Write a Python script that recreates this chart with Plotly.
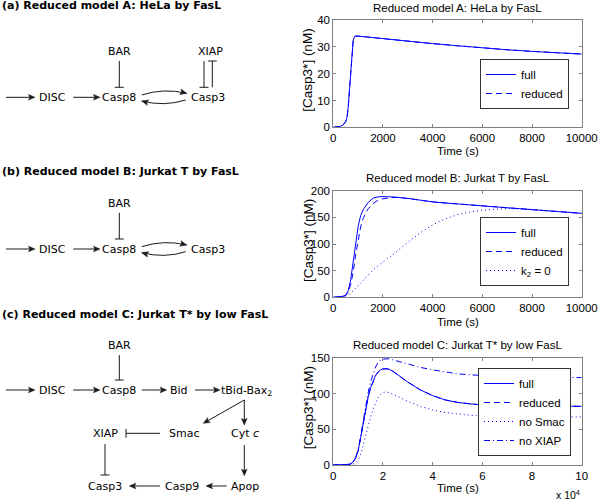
import plotly.graph_objects as go

W, H = 600, 503

# ---------------- data ----------------
# Panel A: HeLa by FasL
t_a = [0, 100, 200, 300, 400, 450, 500, 550, 600, 650, 700, 750, 800, 850, 900,
       1000, 1200, 1500, 2000, 3000, 4000, 5000, 6000, 7000, 8000, 9000, 10000]
a_full = [0, 0.05, 0.15, 0.4, 0.9, 1.4, 2.2, 3.6, 7.5, 14, 21, 27.5, 32.3, 33.8, 34.0,
          34.0, 33.8, 33.5, 32.9, 32.1, 31.2, 30.4, 29.6, 28.9, 28.3, 27.8, 27.3]
a_reduced = [0, 0.05, 0.15, 0.4, 0.9, 1.4, 2.2, 3.5, 7.2, 13.6, 20.6, 27.2, 32.1, 33.7, 34.0,
             34.0, 33.8, 33.5, 32.9, 32.1, 31.2, 30.4, 29.6, 28.9, 28.3, 27.8, 27.3]

# Panel B: Jurkat T by FasL
t_b = [0, 200, 400, 500, 600, 700, 800, 900, 1000, 1100, 1200, 1400, 1600, 1800, 2000,
       2200, 2500, 3000, 3500, 4000, 4500, 5000, 5500, 6000, 7000, 8000, 9000, 10000]
b_full = [0, 0.3, 2, 4, 12, 33, 62, 100, 133, 153, 164, 178, 186, 188.5, 189,
          189, 188, 185.5, 182, 179, 177, 175, 173, 171.5, 168, 164.5, 161, 157.5]
b_reduced = [0, 0.3, 2, 3.5, 10, 24, 47, 80, 110, 132, 148, 166, 176, 182, 185,
             186.5, 187.5, 185.5, 182, 179, 177, 175, 173, 171.5, 168, 164.5, 161, 157.5]
b_k2zero = [0, 0.2, 1, 2.5, 5, 8, 12, 17, 22, 27, 32, 42, 51, 59, 66,
            73, 84, 103, 121, 136, 147, 155, 160, 163.5, 166.5, 165, 161, 157.5]

# Panel C: Jurkat T* by low FasL (time in units of 10^4 s)
t_c = [0, 0.2, 0.4, 0.6, 0.7, 0.8, 0.9, 1.0, 1.1, 1.2, 1.3, 1.4, 1.5, 1.6, 1.7, 1.8, 1.9,
       2.0, 2.1, 2.2, 2.4, 2.6, 2.8, 3.0, 3.5, 4.0, 4.5, 5.0, 5.5, 6.0, 7.0, 8.0, 9.0, 10.0]
c_full = [0, 0.1, 0.3, 0.8, 1.5, 4.5, 10, 20, 38, 58, 78, 95, 108, 118, 125, 130, 133,
          134.5, 135, 134.5, 131, 126, 121, 116, 105, 97, 91, 87.5, 85.5, 84, 83, 82.5, 82.2, 82]
c_reduced = [0, 0.1, 0.3, 0.8, 1.5, 4.3, 9.7, 19.5, 37.5, 57.5, 77.5, 94.5, 107.5, 117.5, 124.8, 129.8, 132.8,
             134.3, 134.8, 134.3, 130.8, 125.8, 120.8, 115.8, 105, 97, 91, 87.5, 85.5, 84, 83, 82.5, 82.2, 82]
c_nosmac = [0, 0, 0.1, 0.3, 0.6, 1.2, 3, 7, 15, 27, 41, 55, 67, 78, 87, 94, 99,
            101.5, 102, 101.5, 99, 95.5, 92, 89, 82, 77, 73.5, 71, 69.5, 68.5, 67.8, 67.5, 67.3, 67.2]
c_noxiap = [0, 0.1, 0.3, 0.8, 1.5, 4.6, 10.5, 21, 40, 61, 82, 101, 116, 128, 137, 143, 146.5,
            148, 148.5, 148.5, 147, 145, 142.5, 140.5, 136.5, 133, 130, 127.5, 126, 125, 123.8, 123, 122.5, 122.2]

xticks_ab = [0, 2000, 4000, 6000, 8000, 10000]
xticks_c = [0, 2, 4, 6, 8, 10]
yticks_a = [0, 10, 20, 30, 40]
yticks_b = [0, 50, 100, 150, 200]
yticks_c = [0, 50, 100, 150]

# ---------------- helpers (pixel -> paper) ----------------
def X(px):
    return px / W


def Y(py):
    return 1 - py / H


BLUE = '#0000ff'
DIAG = '#1a1a1a'
AXC = '#808080'
PFONT = 'Liberation Sans'
DFONT = 'DejaVu Sans'

shapes = []
annotations = []


def seg(x0, y0, x1, y1, color=DIAG, width=1):
    shapes.append(dict(type='line', xref='paper', yref='paper', x0=X(x0), y0=Y(y0),
                       x1=X(x1), y1=Y(y1), line=dict(color=color, width=width)))


def head(tx, ty, dx, dy, L=6.5, w=2.8):
    n = (dx * dx + dy * dy) ** 0.5
    ux, uy = dx / n, dy / n
    px, py = -uy, ux
    bx, by = tx - L * ux, ty - L * uy
    nx, ny = tx - 0.8 * L * ux, ty - 0.8 * L * uy
    pts = [(tx, ty), (bx + w * px, by + w * py), (nx, ny), (bx - w * px, by - w * py)]
    path = 'M ' + ' L '.join(f'{X(a):.5f},{Y(b):.5f}' for a, b in pts) + ' Z'
    shapes.append(dict(type='path', xref='paper', yref='paper', path=path,
                       fillcolor=DIAG, line=dict(color=DIAG, width=0.5)))


def arrow(x0, y0, x1, y1):
    dx, dy = x1 - x0, y1 - y0
    n = (dx * dx + dy * dy) ** 0.5
    ux, uy = dx / n, dy / n
    seg(x0, y0, x1 - 4 * ux, y1 - 4 * uy)
    head(x1, y1, dx, dy)


def inhibit(x0, y0, x1, y1, bar=4.5):
    dx, dy = x1 - x0, y1 - y0
    n = (dx * dx + dy * dy) ** 0.5
    ux, uy = dx / n, dy / n
    px, py = -uy, ux
    seg(x0, y0, x1, y1)
    seg(x1 + bar * px, y1 + bar * py, x1 - bar * px, y1 - bar * py)


def curved(x0, y0, cx, cy, x1, y1):
    path = f'M {X(x0):.5f},{Y(y0):.5f} Q {X(cx):.5f},{Y(cy):.5f} {X(x1):.5f},{Y(y1):.5f}'
    shapes.append(dict(type='path', xref='paper', yref='paper', path=path,
                       line=dict(color=DIAG, width=1)))
    head(x1, y1, x1 - cx, y1 - cy)


def node(text, x, y, size=11):
    annotations.append(dict(text=text, x=X(x), y=Y(y), xref='paper', yref='paper',
                            xanchor='center', yanchor='middle', showarrow=False,
                            font=dict(family=DFONT, size=size, color='black')))


def ptext(text, x, y, size=11, angle=0, xanchor='center', family=PFONT, bold=False):
    annotations.append(dict(text=(f'<b>{text}</b>' if bold else text), x=X(x), y=Y(y),
                            xref='paper', yref='paper', xanchor=xanchor, yanchor='middle',
                            showarrow=False, textangle=angle,
                            font=dict(family=family, size=size, color='black')))


# ---------------- left panels: diagrams ----------------
ptext('(a) Reduced model A: HeLa by FasL', 0, 5.5, size=11, xanchor='left', family=DFONT, bold=True)
ptext('(b) Reduced model B: Jurkat T by FasL', 0, 172, size=11, xanchor='left', family=DFONT, bold=True)
ptext('(c) Reduced model C: Jurkat T* by low FasL', 0, 314, size=11, xanchor='left', family=DFONT, bold=True)


def caspase_row(ry, xiap=False):
    arrow(6, ry, 35, ry)
    node('DISC', 52.7, ry)
    arrow(73.3, ry, 100, ry)
    node('Casp8', 119, ry)
    node('BAR', 119.3, ry - 45.6)
    inhibit(119.3, ry - 36.3, 119.3, ry - 10)
    node('Casp3', 207.7, ry)
    curved(141.7, ry - 2.3, 164, ry - 9.5, 186.7, ry - 4)
    curved(185.7, ry + 2.7, 164, ry + 9.5, 141.7, ry + 3.7)
    if xiap:
        node('XIAP', 210, ry - 45.6)
        inhibit(204, ry - 36.3, 204, ry - 10)
        inhibit(212.3, ry - 10, 212.3, ry - 36.3)


caspase_row(97.3, xiap=True)
caspase_row(249)

# panel (c) diagram
rc = 390
arrow(6, rc, 35, rc)
node('DISC', 52.7, rc)
arrow(73.3, rc, 100, rc)
node('Casp8', 119, rc)
node('BAR', 119.3, rc - 45)
inhibit(119.3, rc - 35, 119.3, rc - 10)
arrow(141.7, rc, 166.7, rc)
node('Bid', 179, rc)
arrow(195, rc, 220, rc)
node('tBid-Bax<sub>2</sub>', 246.7, rc + 1)
arrow(244.3, 400, 203.3, 423.3)
arrow(244.3, 400, 244.3, 425)
node('XIAP', 105, 433.3)
inhibit(160, 433.3, 126, 433.3)
node('Smac', 184.7, 433.3)
node('Cyt <i>c</i>', 245, 433.3)
arrow(244.3, 445, 244.3, 475.7)
inhibit(105, 444, 105, 475)
node('Casp3', 105, 486)
arrow(160, 486, 129.3, 486)
node('Casp9', 182, 486)
arrow(226.7, 486, 206, 486)
node('Apop', 245, 486)

# ---------------- right panels: plots ----------------
XL, XR = 333.3, 581.7
panels = [
    dict(top=20, bot=127.3),
    dict(top=190.7, bot=297.3),
    dict(top=357.7, bot=465),
]

fig = go.Figure()

fig.add_trace(go.Scatter(x=t_a, y=a_full, mode='lines', name='full', legend='legend',
                         line=dict(color=BLUE, width=1), xaxis='x', yaxis='y'))
fig.add_trace(go.Scatter(x=t_a, y=a_reduced, mode='lines', name='reduced', legend='legend',
                         line=dict(color=BLUE, width=1, dash='6px,4px'), xaxis='x', yaxis='y'))

fig.add_trace(go.Scatter(x=t_b, y=b_full, mode='lines', name='full', legend='legend2',
                         line=dict(color=BLUE, width=1), xaxis='x2', yaxis='y2'))
fig.add_trace(go.Scatter(x=t_b, y=b_reduced, mode='lines', name='reduced', legend='legend2',
                         line=dict(color=BLUE, width=1, dash='6px,4px'), xaxis='x2', yaxis='y2'))
fig.add_trace(go.Scatter(x=t_b, y=b_k2zero, mode='lines', name='k<sub>2</sub> = 0', legend='legend2',
                         line=dict(color=BLUE, width=1, dash='1px,3px'), xaxis='x2', yaxis='y2'))

fig.add_trace(go.Scatter(x=t_c, y=c_full, mode='lines', name='full', legend='legend3',
                         line=dict(color=BLUE, width=1), xaxis='x3', yaxis='y3'))
fig.add_trace(go.Scatter(x=t_c, y=c_reduced, mode='lines', name='reduced', legend='legend3',
                         line=dict(color=BLUE, width=1, dash='6px,4px'), xaxis='x3', yaxis='y3'))
fig.add_trace(go.Scatter(x=t_c, y=c_nosmac, mode='lines', name='no Smac', legend='legend3',
                         line=dict(color=BLUE, width=1, dash='1px,3px'), xaxis='x3', yaxis='y3'))
fig.add_trace(go.Scatter(x=t_c, y=c_noxiap, mode='lines', name='no XIAP', legend='legend3',
                         line=dict(color=BLUE, width=1, dash='6px,3px,1px,3px'), xaxis='x3', yaxis='y3'))

axis_common = dict(showline=True, linecolor=AXC, linewidth=1, mirror='ticks', ticks='inside',
                   ticklen=3, tickcolor=AXC, showgrid=False, zeroline=False, fixedrange=True,
                   tickformat='d', automargin=False,
                   tickfont=dict(family=PFONT, size=11.5, color='black'))

layout = dict(width=W, height=H, margin=dict(l=0, r=0, t=0, b=0, pad=0, autoexpand=False),
              paper_bgcolor='white', plot_bgcolor='white', shapes=shapes,
              annotations=annotations)

xranges = [[0, 10000], [0, 10000], [0, 10]]
yranges = [[0, 40], [0, 200], [0, 150]]
xtv = [xticks_ab, xticks_ab, xticks_c]
ytv = [yticks_a, yticks_b, yticks_c]
titles = ['Reduced model A: HeLa by FasL', 'Reduced model B: Jurkat T by FasL',
          'Reduced model C: Jurkat T* by low FasL']
title_y = [7.5, 177.5, 344.7]
xlab_y = [150.5, 321.5, 488.3]

for i, p in enumerate(panels):
    sfx = '' if i == 0 else str(i + 1)
    layout['xaxis' + sfx] = dict(axis_common, domain=[X(XL), X(XR)], range=xranges[i],
                                 tickvals=xtv[i], anchor='y' + sfx)
    layout['yaxis' + sfx] = dict(axis_common, domain=[Y(p['bot']), Y(p['top'])], range=yranges[i],
                                 tickvals=ytv[i], anchor='x' + sfx)
    ptext(titles[i], (XL + XR) / 2, title_y[i], size=11.5)
    ptext('Time (s)', (XL + XR) / 2, xlab_y[i], size=11.5)
    ptext('[Casp3*] (nM)', 308, (p['top'] + p['bot']) / 2 - 3, size=13.5, angle=-90)

ptext('x 10<sup>4</sup>', 581.7, 494.5, size=10.5, xanchor='right')

leg_common = dict(bgcolor='white', bordercolor='#333333', borderwidth=1, xanchor='left',
                  yanchor='top', tracegroupgap=0, itemwidth=30,
                  font=dict(family=PFONT, size=11.5, color='black'))
layout['legend'] = dict(leg_common, x=X(480), y=Y(59))
layout['legend2'] = dict(leg_common, x=X(480), y=Y(217))
layout['legend3'] = dict(leg_common, x=X(478), y=Y(368))
layout['showlegend'] = True

fig.update_layout(**layout)
fig.write_html('out.html', config={'displayModeBar': False},
               post_script="document.body.style.margin='0';document.body.style.padding='0';")
